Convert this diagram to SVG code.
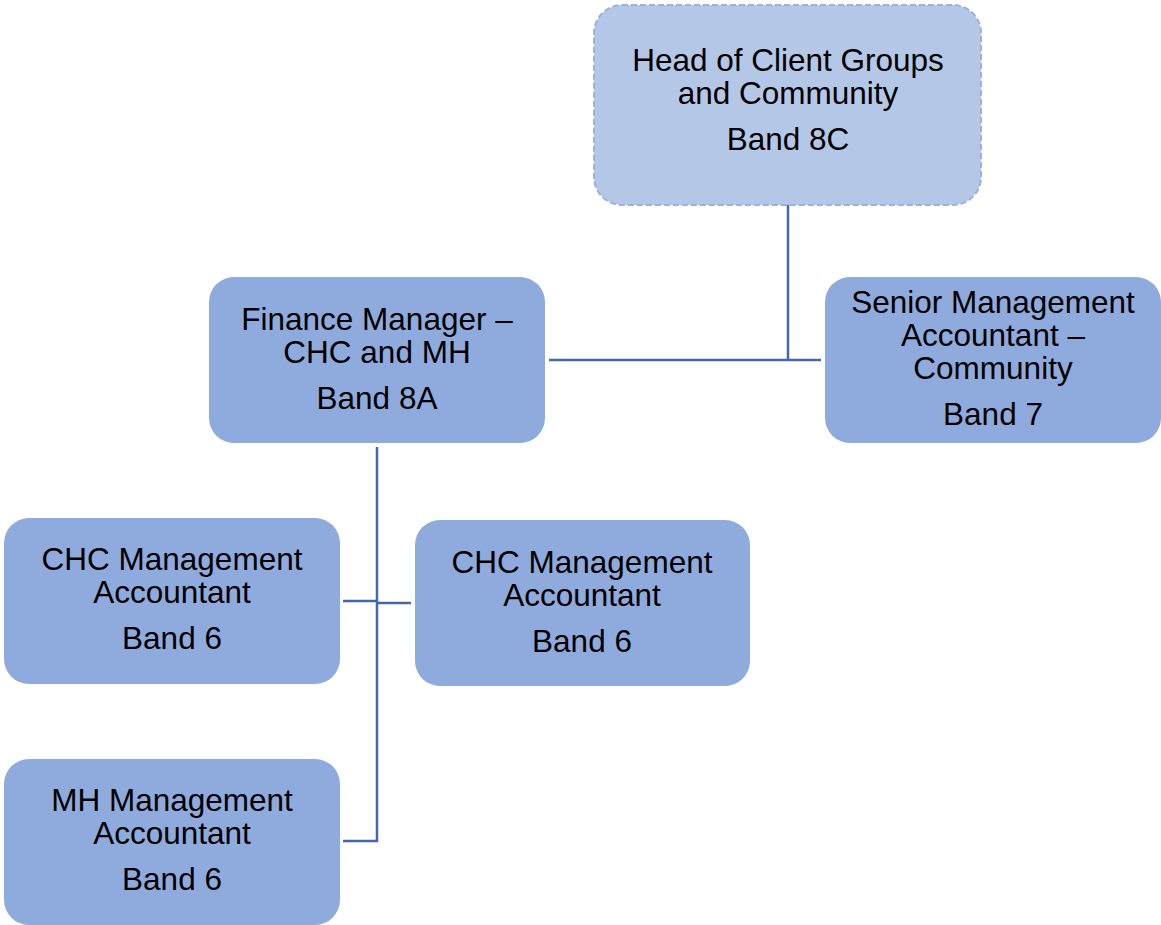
<svg xmlns="http://www.w3.org/2000/svg" width="1161" height="925" viewBox="0 0 1161 925">
<style>
.box{fill:#8faadc;}
.head{fill:#b4c7e7;stroke:#9cb2d9;stroke-width:2;stroke-dasharray:6 3;}
.t{font-family:"Liberation Sans",Arial,sans-serif;font-size:31.5px;fill:#000;text-anchor:middle;}
.c{stroke:#4466ad;stroke-width:2.5;fill:none;}
</style>
<rect width="1161" height="925" fill="#fff"/>
<g id="connectors">
<path class="c" d="M788 205V360M549 360H821"/>
<path class="c" d="M377 447V841H343M343 601H377M377 603H411"/>
</g>
<g id="head">
<rect class="head" x="594" y="5" width="387" height="200" rx="28"/>
<text class="t" x="788" y="71">Head of Client Groups</text>
<text class="t" x="788" y="104">and Community</text>
<text class="t" x="788" y="150">Band 8C</text>
</g>
<g id="finance">
<rect class="box" x="209" y="277" width="336" height="166" rx="25"/>
<text class="t" x="377" y="330">Finance Manager –</text>
<text class="t" x="377" y="363">CHC and MH</text>
<text class="t" x="377" y="409">Band 8A</text>
</g>
<g id="senior">
<rect class="box" x="825" y="277" width="336" height="166" rx="25"/>
<text class="t" x="993" y="313">Senior Management</text>
<text class="t" x="993" y="346">Accountant –</text>
<text class="t" x="993" y="379">Community</text>
<text class="t" x="993" y="425">Band 7</text>
</g>
<g id="chc-left">
<rect class="box" x="4" y="518" width="336" height="166" rx="25"/>
<text class="t" x="172" y="570">CHC Management</text>
<text class="t" x="172" y="603">Accountant</text>
<text class="t" x="172" y="649">Band 6</text>
</g>
<g id="chc-right">
<rect class="box" x="415" y="520" width="335" height="166" rx="25"/>
<text class="t" x="582" y="573">CHC Management</text>
<text class="t" x="582" y="606">Accountant</text>
<text class="t" x="582" y="652">Band 6</text>
</g>
<g id="mh">
<rect class="box" x="4" y="759" width="336" height="166" rx="25"/>
<text class="t" x="172" y="811">MH Management</text>
<text class="t" x="172" y="844">Accountant</text>
<text class="t" x="172" y="890">Band 6</text>
</g>
</svg>
